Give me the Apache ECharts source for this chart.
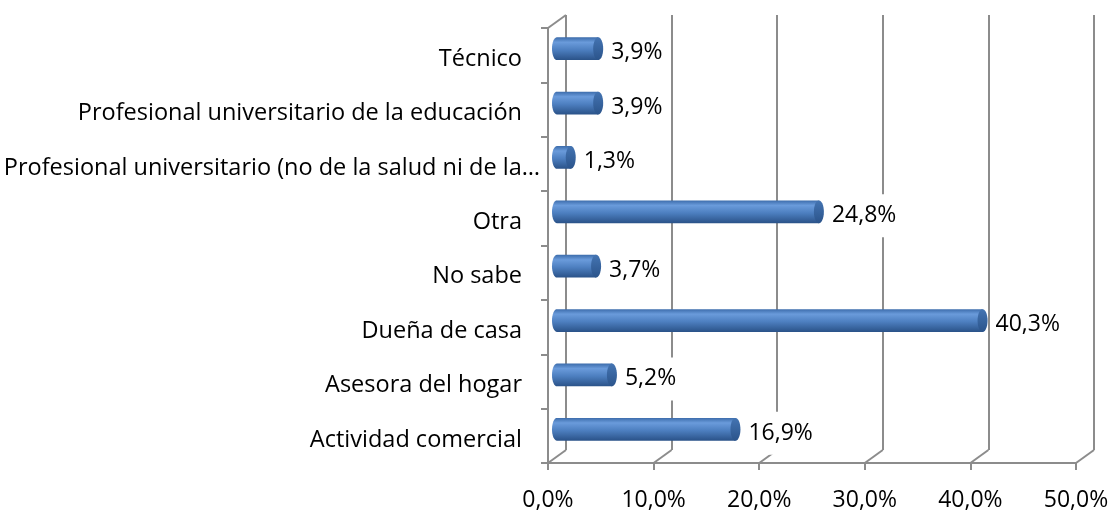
<!DOCTYPE html>
<html>
<head>
<meta charset="utf-8">
<script src="https://cdn.jsdelivr.net/npm/echarts@6/dist/echarts.min.js"></script>
<style>
  html, body { margin: 0; padding: 0; background: #fff; }
  #main { width: 1112px; height: 510px; }
</style>
</head>
<body>
<div id="main"></div>
<script>
// categories bottom -> top (category axis starts at the bottom)
var categories = [
  'Actividad comercial',
  'Asesora del hogar',
  'Dueña de casa',
  'No sabe',
  'Otra',
  'Profesional universitario (no de la salud ni de la…',
  'Profesional universitario de la educación',
  'Técnico'
];
var values = [16.9, 5.2, 40.3, 3.7, 24.8, 1.3, 3.9, 3.9];
var xTicks = [0, 10, 20, 30, 40, 50];

var FONT = '"Open Sans", Lato, sans-serif';
var GRAY = '#8c8c8c';
// depth of the 3d box (back wall offset)
var DX = 18, DY = -13;

function fmt(v, d) {
  return v.toFixed(d).replace('.', ',') + '%';
}

// ellipse points (shape geometry only)
function ellipsePts(cx, cy, rx, ry, a0, a1, n) {
  var pts = [];
  for (var i = 0; i <= n; i++) {
    var a = a0 + (a1 - a0) * i / n;
    pts.push([cx + rx * Math.cos(a), cy + ry * Math.sin(a)]);
  }
  return pts;
}

function renderFrame(params, api) {
  var cs = params.coordSys;
  var x = api.coord([api.value(0), 0])[0];
  var yb = cs.y + cs.height;
  var children = [{
    type: 'line',
    shape: { x1: x, y1: yb, x2: x + DX, y2: yb + DY },
    style: { stroke: GRAY, lineWidth: 2 }
  }];
  if (params.dataIndex === 0) {
    children.push({
      type: 'line',
      shape: { x1: x, y1: cs.y, x2: x + DX, y2: cs.y + DY },
      style: { stroke: GRAY, lineWidth: 2 }
    });
  }
  return { type: 'group', children: children };
}

function renderBar(params, api) {
  var val = api.value(0);
  var idx = api.value(1);
  var p0 = api.coord([0, idx]);
  var p1 = api.coord([val, idx]);
  var ry = api.size([0, 1])[1] * 0.21;
  var rx = 5;
  var cy = p0[1];
  var body = ellipsePts(p0[0], cy, rx, ry, -Math.PI / 2, -3 * Math.PI / 2, 16);
  body.push([p1[0], cy + ry], [p1[0], cy - ry]);
  var cap = ellipsePts(p1[0], cy, rx, ry, 0, Math.PI * 2, 30);
  return {
    type: 'group',
    children: [{
      type: 'polygon',
      shape: { points: body },
      style: {
        fill: new echarts.graphic.LinearGradient(0, 0, 0, 1, [
          { offset: 0, color: '#3c6cab' },
          { offset: 0.22, color: '#6a9bdb' },
          { offset: 0.55, color: '#4d7fc0' },
          { offset: 1, color: '#2a5288' }
        ])
      }
    }, {
      type: 'polygon',
      shape: { points: cap },
      style: {
        fill: new echarts.graphic.LinearGradient(0, 0, 0, 1, [
          { offset: 0, color: '#4474b2' },
          { offset: 1, color: '#2b548b' }
        ])
      }
    }, {
      type: 'text',
      x: p1[0] + rx + 4,
      y: cy + 4,
      style: {
        text: fmt(val, 1),
        fill: '#000',
        font: '23px ' + FONT,
        verticalAlign: 'middle',
        backgroundColor: '#fff',
        padding: [10, 4]
      }
    }]
  };
}

// the truncated label sits closer to the axis than the others
var catData = categories.map(function (c) {
  if (c.slice(-1) === '…') {
    return { value: c, textStyle: { padding: [0, 0, 0, 0], verticalAlign: 'top', lineHeight: 8 } };
  }
  return c;
});

var chart = echarts.init(document.getElementById('main'));

var noBounds = { outerBoundsMode: 'none', containLabel: false };
var option = {
  backgroundColor: '#fff',
  animation: false,
  textStyle: { fontFamily: FONT },
  grid: [
    // front plane
    Object.assign({ left: 548, right: 36, top: 28, bottom: 47 }, noBounds),
    // back wall
    Object.assign({ left: 548 + DX, right: 36 - DX, top: 28 + DY, bottom: 47 - DY }, noBounds),
    // middle plane (bars)
    Object.assign({ left: 548 + DX / 2, right: 36 - DX / 2, top: 28 + DY / 2, bottom: 47 - DY / 2 }, noBounds)
  ],
  xAxis: [{
    gridIndex: 0, type: 'value', min: 0, max: 50, interval: 10,
    axisLine: { show: true, lineStyle: { color: GRAY, width: 2 } },
    axisTick: { show: true, length: 7, lineStyle: { color: GRAY, width: 2 } },
    axisLabel: { color: '#000', fontSize: 23, margin: 26, formatter: function (v) { return fmt(v, 1); } },
    splitLine: { show: false }
  }, {
    gridIndex: 1, type: 'value', min: 0, max: 50, interval: 10,
    axisLine: { show: false }, axisTick: { show: false }, axisLabel: { show: false },
    splitLine: { show: true, lineStyle: { color: GRAY, width: 2 } }
  }, {
    gridIndex: 2, type: 'value', min: 0, max: 50, interval: 10, show: false
  }],
  yAxis: [{
    gridIndex: 0, type: 'category', data: catData,
    axisLine: { show: true, lineStyle: { color: GRAY, width: 2 } },
    axisTick: { show: true, length: 7, lineStyle: { color: GRAY, width: 2 } },
    axisLabel: {
      color: '#000', fontSize: 23.5, margin: 8, padding: [0, 18, 0, 0],
      verticalAlign: 'top', lineHeight: 8
    }
  }, {
    gridIndex: 1, type: 'category', data: categories, show: false
  }, {
    gridIndex: 2, type: 'category', data: categories, show: false
  }],
  series: [{
    type: 'custom',
    xAxisIndex: 0, yAxisIndex: 0,
    clip: false,
    silent: true,
    data: xTicks.map(function (v) { return [v, 0]; }),
    renderItem: renderFrame
  }, {
    type: 'custom',
    xAxisIndex: 2, yAxisIndex: 2,
    clip: false,
    data: values.map(function (v, i) { return [v, i]; }),
    renderItem: renderBar
  }]
};

chart.setOption(option);
</script>
</body>
</html>
